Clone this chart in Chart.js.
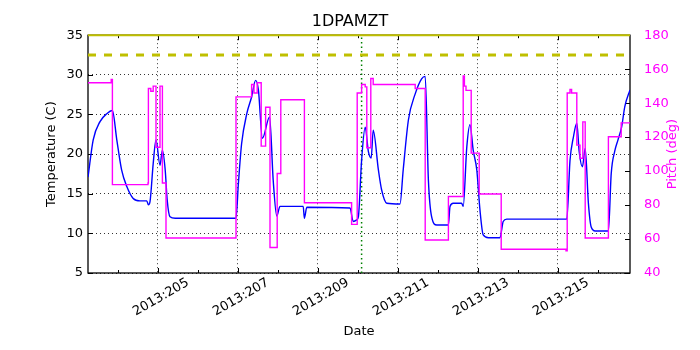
<!DOCTYPE html>
<html><head><meta charset="utf-8">
<script src="https://cdn.jsdelivr.net/npm/chart.js@4"></script>
<style>html,body{margin:0;padding:0;background:#fff}canvas{display:block}</style>
</head><body>
<canvas id="c" width="700" height="350"></canvas>
<script>
// ---- data (day of year 2013) ----
const tempDays = [203.25,203.38,203.55,203.72,203.86,203.97,204.09,204.22,204.38,204.55,204.72,204.76,204.80,204.88,204.95,205.05,205.11,205.18,205.23,205.30,205.43,206.95,207.01,207.09,207.22,207.34,207.44,207.51,207.61,207.79,207.88,207.97,208.05,208.63,208.66,208.72,209.80,209.88,209.97,210.01,210.09,210.18,210.26,210.33,210.38,210.51,210.59,210.72,211.05,211.13,211.26,211.43,211.59,211.68,211.76,211.84,211.97,212.26,212.30,212.38,212.59,212.63,212.72,212.80,212.88,212.97,213.05,213.13,213.26,213.55,213.63,213.72,215.22,215.30,215.38,215.47,215.53,215.61,215.68,215.76,215.83,215.93,216.26,216.33,216.42,216.50,216.59,216.67,216.80];
const tempValues = [17.1,21.8,24.1,25.1,25.5,21.8,18.0,15.9,14.4,14.1,14.1,13.6,14.0,18.8,21.8,18.6,20.5,18.0,14.2,12.1,11.9,11.9,16.3,21.3,25.1,27.2,29.3,28.1,22.0,24.7,16.7,12.2,13.4,13.4,11.9,13.3,13.2,11.5,11.7,12.1,19.2,23.4,20.3,19.5,23.0,18.0,15.5,13.8,13.7,18.0,24.3,27.6,29.5,29.8,16.7,12.1,11.05,11.05,13.4,13.8,13.8,13.4,20.9,23.7,20.5,18.0,12.9,9.8,9.45,9.45,11.5,11.8,11.8,19.2,22.0,23.9,20.3,18.4,20.7,13.8,10.8,10.3,10.3,17.5,20.4,21.8,23.4,26.0,28.1];
const pitchDays = [203.25,203.83,203.86,204.75,204.76,204.82,204.88,204.95,205.05,205.11,205.20,206.95,207.34,207.40,207.48,207.58,207.69,207.80,207.98,208.07,208.66,209.84,209.98,210.09,210.18,210.22,210.32,210.38,211.43,211.68,212.26,212.63,212.66,212.70,212.83,213.03,213.58,215.20,215.23,215.30,215.34,215.47,215.55,215.62,215.68,216.26,216.58,216.80];
const pitchValues = [152,154,92,93,148.6,147,150,114,150,93,60.6,143.7,151,146,152,114.7,137.6,55,98.6,142,81.4,68.6,146,151,149.6,113.7,154.5,151,148.6,59.4,85,156,150,147.5,110.6,86.5,54,53,146,148,146,115.3,107.6,129,60.6,120.2,128.4,128.4];
const xRange = [203.25, 216.8];
const labeledDays = [205,207,209,211,213,215];
const tempTicks = [5,10,15,20,25,30,35];
const pitchTicks = [40,60,80,100,120,140,160,180];
const planningLimit = 32.5;
const cautionLimit = 35;
const markerDay = 210.09;
const pitchTitle = 'Pitch (deg)';

const pts = (xs, ys) => xs.map((x, i) => ({x, y: ys[i]}));
Chart.defaults.font.family = "'DejaVu Sans', sans-serif";
Chart.defaults.font.size = 13;
Chart.defaults.color = '#000';

const framePlugin = {
  id: 'frame',
  beforeDatasetsDraw(chart) {
    const {ctx, chartArea: a, scales} = chart;
    ctx.save();
    ctx.strokeStyle = '#000';
    ctx.lineWidth = 1;
    ctx.beginPath();
    for (let d = 204; d <= 216; d++) {
      const x = Math.round(scales.x.getPixelForValue(d)) + 0.5;
      const len = d % 2 ? 5 : 3;
      ctx.moveTo(x, a.bottom); ctx.lineTo(x, a.bottom - len);
      ctx.moveTo(x, a.top); ctx.lineTo(x, a.top + len);
    }
    tempTicks.forEach(v => { const y = Math.round(scales.y.getPixelForValue(v)) + 0.5; ctx.moveTo(a.left, y); ctx.lineTo(a.left + 5, y); });
    pitchTicks.forEach(v => { const y = Math.round(scales.y2.getPixelForValue(v)) + 0.5; ctx.moveTo(a.right, y); ctx.lineTo(a.right - 5, y); });
    ctx.stroke();
    ctx.lineWidth = 1.3;
    ctx.strokeRect(a.left, a.top, a.width, a.height);
    ctx.restore();
  },
  afterDraw(chart) {
    const {ctx, chartArea: a} = chart;
    ctx.save();
    ctx.translate(a.right + 43, (a.top + a.bottom) / 2);
    ctx.rotate(-Math.PI / 2);
    ctx.font = "13px 'DejaVu Sans', sans-serif";
    ctx.fillStyle = '#ff00ff';
    ctx.textAlign = 'center';
    ctx.textBaseline = 'middle';
    ctx.fillText(pitchTitle, 0, 0);
    ctx.restore();
  }
};

new Chart(document.getElementById('c'), {
  type: 'line',
  data: {
    datasets: [
      {label: 'Pitch', data: pts(pitchDays, pitchValues), yAxisID: 'y2', stepped: true, borderColor: '#ff00ff', borderWidth: 1.4, pointRadius: 0, order: 1},
      {label: '1DPAMZT', data: pts(tempDays, tempValues), yAxisID: 'y', borderColor: '#0000ff', borderWidth: 1.4, pointRadius: 0, cubicInterpolationMode: 'monotone', order: 2},
      {label: 'planning', data: pts(xRange, [planningLimit, planningLimit]), yAxisID: 'y', borderColor: '#bfbf00', borderWidth: 3, borderDash: [8, 8], pointRadius: 0, order: 0},
      {label: 'caution', data: pts(xRange, [cautionLimit, cautionLimit]), yAxisID: 'y', borderColor: '#bfbf00', borderWidth: 2, pointRadius: 0, clip: false, order: 0},
      {label: 'now', data: pts([markerDay, markerDay], [5, 35]), yAxisID: 'y', borderColor: '#008000', borderWidth: 1.5, borderDash: [1.5, 3], pointRadius: 0, order: 3}
    ]
  },
  options: {
    responsive: false,
    animation: false,
    events: [],
    layout: {padding: 0},
    plugins: {
      legend: {display: false},
      tooltip: {enabled: false},
      title: {display: true, text: '1DPAMZT', font: {size: 16, weight: 'normal'}, color: '#000', padding: {top: 12, bottom: 4}}
    },
    scales: {
      x: {
        type: 'linear', position: 'bottom', min: xRange[0], max: xRange[1],
        afterBuildTicks: s => { const t = []; for (let d = 204; d <= 216; d++) t.push({value: d}); s.ticks = t; },
        afterFit: s => { s.height = 77; },
        ticks: {
          autoSkip: false, minRotation: 30, maxRotation: 30, labelOffset: 30, padding: 2,
          callback: v => labeledDays.includes(v) ? '2013:' + v : ''
        },
        grid: {drawTicks: false, lineWidth: 0.8, color: c => labeledDays.includes(c.tick && c.tick.value) ? '#000' : 'rgba(0,0,0,0)'},
        border: {display: false, dash: [1, 3]},
        title: {display: true, text: 'Date', padding: {top: 0, bottom: 11}}
      },
      y: {
        position: 'left', min: 5, max: 35,
        afterBuildTicks: s => { s.ticks = tempTicks.map(v => ({value: v})); },
        afterFit: s => { s.width = 88; },
        ticks: {padding: 5},
        grid: {drawTicks: false, lineWidth: 0.8, color: '#000'},
        border: {display: false, dash: [1, 3]},
        title: {display: true, text: 'Temperature (C)', padding: {top: 44, bottom: 0}}
      },
      y2: {
        position: 'right', min: 40, max: 180,
        afterBuildTicks: s => { s.ticks = pitchTicks.map(v => ({value: v})); },
        afterFit: s => { s.width = 70; },
        ticks: {padding: 6, color: '#ff00ff'},
        grid: {display: false},
        border: {display: false},
        title: {display: false}
      }
    }
  },
  plugins: [framePlugin]
});
</script>
</body></html>
